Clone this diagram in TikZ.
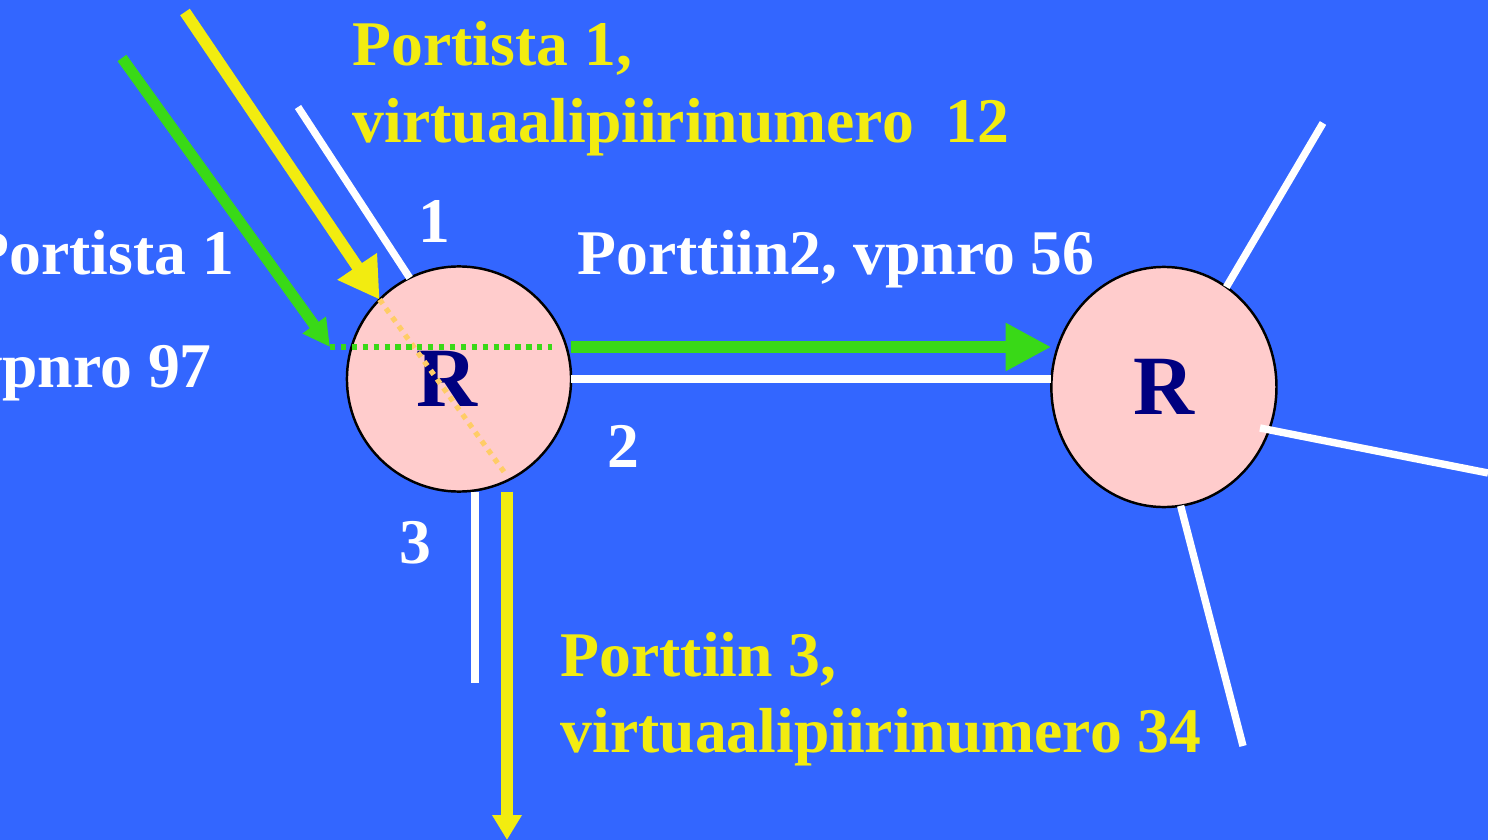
\documentclass[tikz,border=0pt]{standalone}
\usepackage{fontspec}
\setmainfont{Liberation Serif}
\usetikzlibrary{positioning, calc, arrows.meta, shapes.geometric}
\definecolor{slideblue}{RGB}{51,102,255}
\definecolor{routerpink}{RGB}{255,204,204}
\definecolor{routernavy}{RGB}{0,0,128}
\definecolor{pathyellow}{RGB}{242,236,16}
\definecolor{pathgreen}{RGB}{57,217,23}
\definecolor{pathorange}{RGB}{255,204,102}

\begin{document}
\begin{tikzpicture}[x=0.01cm, y=-0.01cm]
		\tikzstyle{router}=[ellipse, draw=black, line width=0.7pt, fill=routerpink, inner sep=0pt, outer sep=0pt, text=routernavy, font=\fontsize{24}{24}\selectfont\bfseries]
		\tikzstyle{lbl}=[anchor=base west, inner sep=0pt, text=white, font=\fontsize{18.1}{20}\selectfont\bfseries]
		\tikzstyle{link}=[draw=white, line width=2.1pt]
		\tikzstyle{ydots}=[draw=pathorange, line width=1.5pt, dash pattern=on 1.5pt off 1.6pt]
		\tikzstyle{gdots}=[draw=pathgreen, line width=1.5pt, dash pattern=on 1.5pt off 1.6pt]
		
		\fill[slideblue] (0,0) rectangle (1488,840);
		\useasboundingbox (0,0) rectangle (1488,840);
		
		\node[router, minimum width=2.24cm, minimum height=2.25cm](R1) at (459,379) {R\kern0.24cm};
		\node[router, minimum width=2.25cm, minimum height=2.40cm, right=4.8cm of R1, yshift=-0.08cm](R2) {R};
		
		\coordinate (p1) at (298,107);
		\coordinate (p3) at (475,683);
		\coordinate (ys) at (185,12);
		\coordinate (yout) at (507,476);
		\coordinate (y3) at (507,840);
		\coordinate (gs) at (122,58);
		\coordinate (gin) at (330,347);
		\coordinate (gout) at (552,347);
		\coordinate (q1) at (1323,123);
		\coordinate (q2a) at (1260,428);
		\coordinate (q2) at (1488,473);
		\coordinate (q3) at (1243,746);
		
		%% ports
		\draw[link] (p1)--(R1.116);
		\draw[link] (R1.east)--(R1.east -| R2.west);
		\draw[link] ($(R1.south)+(16,0)$)--(p3);
		\draw[link] (R2.58)--(q1);
		\draw[link] (q2a)--(q2);
		\draw[link] (R2.-82)--(q3);
		
		%% yellow circuit
		\draw[draw=pathyellow, line width=3.3pt, -{Triangle[length=11.4pt, width=12.8pt]}] (ys)--(R1.135);
		\draw[ydots] (R1.135)--(yout);
		\draw[draw=pathyellow, line width=3.4pt, -{Triangle[length=7.1pt, width=8pt]}] ($(R1.south)+(48,0)$)--(y3);
		
		%% green circuit
		\draw[draw=pathgreen, line width=3.1pt, -{Triangle[length=7.7pt, width=7.7pt]}] (gs)--(gin);
		\draw[gdots] (gin)--(gout);
		\draw[draw=pathgreen, line width=3.3pt, -{Triangle[length=13pt, width=12.8pt]}] (R1.east |- gin)--(R2.west |- gin);
		
		%% labels
		\node[lbl, text=pathyellow](in1) at (352,66) {Portista 1,};
		\node[lbl, text=pathyellow](in1b) at (352,143) {virtuaalipiirinumero\ \ 12};
		\node[lbl](n1) at (418,243) {1};
		\node[lbl](ing) at (-30,275) {Portista 1};
		\node[lbl](ingb) at (-30,388) {vpnro 97};
		\node[lbl](outg) at (577,275) {Porttiin2, vpnro 56};
		\node[lbl](n2) at (607,467) {2};
		\node[lbl](n3) at (399,563) {3};
		\node[lbl, text=pathyellow](out3) at (560,676) {Porttiin 3,};
		\node[lbl, text=pathyellow](out3b) at (560,752) {virtuaalipiirinumero 34};
\end{tikzpicture}
\end{document}
